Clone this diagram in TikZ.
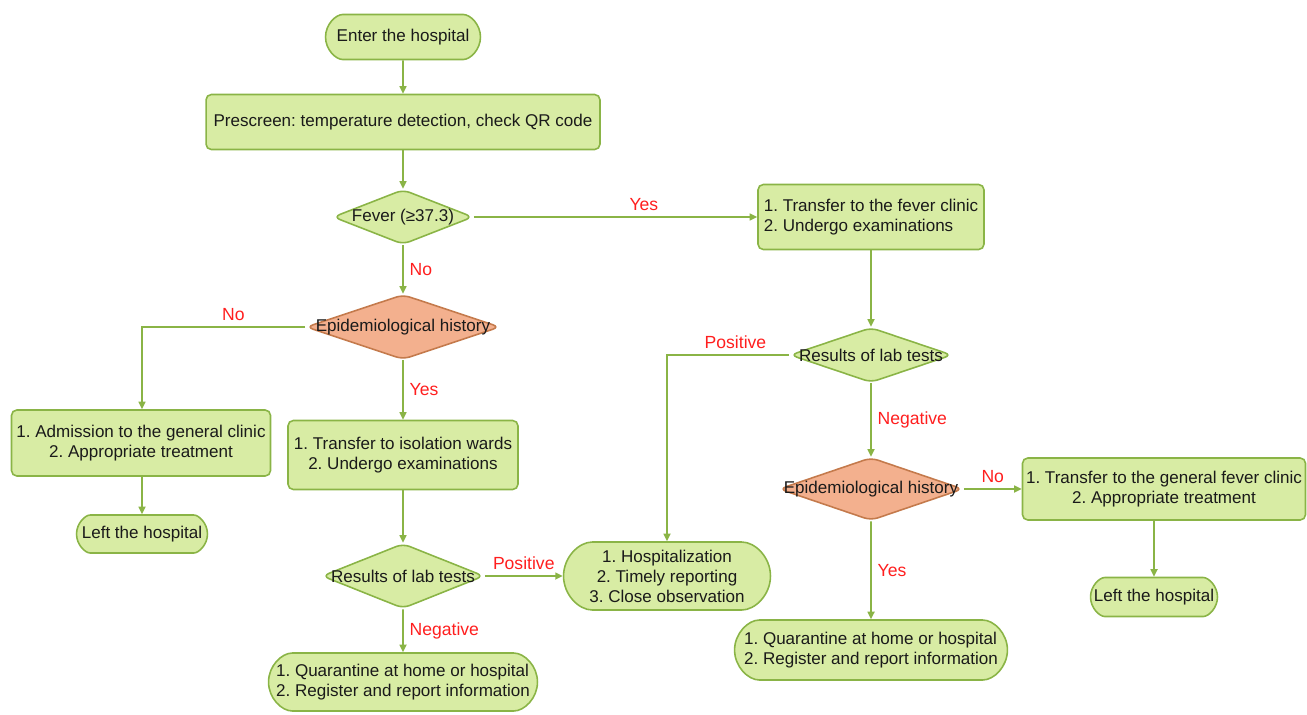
\documentclass[tikz,border=0pt]{standalone}
\usepackage{fontspec}
\setmainfont{Liberation Sans}
\usepackage{xcolor}
\definecolor{cFill}{HTML}{D8ECA4}
\definecolor{cLine}{HTML}{8AB446}
\definecolor{cHist}{HTML}{F3B08E}
\definecolor{cHistLine}{HTML}{C47A4C}
\definecolor{cLabel}{HTML}{FF1E1E}
\definecolor{cText}{HTML}{1A1A1A}
\usepackage{tikz}
\usetikzlibrary{arrows.meta,shapes.geometric,shapes.misc}
\frenchspacing
\newcommand{\dlabel}[1]{\makebox[0pt]{#1}}
\tikzset{
  node-box/.style={draw=cLine,fill=cFill,line width=0.9pt,rounded corners=3pt,
    inner sep=2pt,font=\fontsize{9.7}{11.4}\selectfont,text=cText},
  node-term/.style={node-box,rounded rectangle},
  node-check/.style={node-box,diamond,rounded corners=4pt,inner sep=0pt},
  node-hist/.style={node-check,draw=cHistLine,fill=cHist},
  arrow/.style={-{Triangle[length=1.5mm,width=1.4mm]},line width=0.9pt,draw=cLine},
  answer/.style={text=cLabel,font=\fontsize{10}{12}\selectfont},
}
\begin{document}
\begin{tikzpicture}[x=0.02cm,y=-0.02cm]
  \useasboundingbox (0,0) rectangle (1307,714);
  % left branch
  \node[node-term,minimum width=3.24cm,minimum height=0.9cm] (enter) at (403,37) {Enter the hospital};
  \node[node-box,minimum width=7.88cm,minimum height=1.1cm] (prescreen) at (403,122)
    {Prescreen: temperature detection, check QR code};
  \node[node-check,minimum width=2.8cm,minimum height=1.1cm] (fever) at (403,217) {\dlabel{Fever (≥37.3)}};
  \node[node-hist,minimum width=3.88cm,minimum height=1.3cm] (hist1) at (403,327) {\dlabel{Epidemiological history}};
  \node[node-box,minimum width=5.18cm,minimum height=1.32cm,align=center] (general) at (141,443)
    {1. Admission to the general clinic\\2. Appropriate treatment};
  \node[node-term,minimum width=2.76cm,minimum height=0.76cm] (left1) at (142,534) {Left the hospital};
  \node[node-box,minimum width=4.6cm,minimum height=1.38cm,align=center] (isolation) at (403,455)
    {1. Transfer to isolation wards\\2. Undergo examinations};
  \node[node-check,minimum width=3.24cm,minimum height=1.3cm] (lab1) at (403,576) {\dlabel{Results of lab tests}};
  \node[node-term,minimum width=5.52cm,minimum height=1.16cm,align=left] (home1) at (403,682)
    {1. Quarantine at home or hospital\\2. Register and report information};
  \node[node-term,minimum width=4.28cm,minimum height=1.36cm,align=center] (hosp) at (667,576)
    {1. Hospitalization\\2. Timely reporting\\3. Close observation};
  % right branch
  \node[node-box,minimum width=4.52cm,minimum height=1.3cm,align=left] (clinic) at (871,217)
    {1. Transfer to the fever clinic\\2. Undergo examinations};
  \node[node-check,minimum width=3.24cm,minimum height=1.1cm] (lab2) at (871,355) {\dlabel{Results of lab tests}};
  \node[node-hist,minimum width=3.68cm,minimum height=1.26cm] (hist2) at (871,489) {\dlabel{Epidemiological history}};
  \node[node-box,minimum width=5.6cm,minimum height=1.24cm,align=center] (feverclinic) at (1164,489)
    {1. Transfer to the general fever clinic\\2. Appropriate treatment};
  \node[node-term,minimum width=2.68cm,minimum height=0.78cm] (left2) at (1154,597) {Left the hospital};
  \node[node-term,minimum width=5.4cm,minimum height=1.2cm,align=left] (home2) at (871,650)
    {1. Quarantine at home or hospital\\2. Register and report information};

  \draw[arrow] (enter) -- (prescreen);
  \draw[arrow] (prescreen) -- (fever);
  \draw[arrow] (fever) -- node[answer,right]{No} (hist1);
  \draw[arrow] (fever) -- node[answer,above,pos=0.6]{Yes} (clinic);
  \draw[arrow] (hist1.west) -| node[answer,above,pos=0.22]{No} (left1 |- general.north);
  \draw[arrow] (hist1) -- node[answer,right]{Yes} (isolation);
  \draw[arrow] (general.south -| left1) -- (left1);
  \draw[arrow] (isolation) -- (lab1);
  \draw[arrow] (lab1) -- node[answer,above]{Positive} (hosp);
  \draw[arrow] (lab1) -- node[answer,right]{Negative} (home1);
  \draw[arrow] (clinic) -- (lab2);
  \draw[arrow] (lab2.west) -| node[answer,above,pos=0.22]{Positive} (hosp.north);
  \draw[arrow] (lab2) -- node[answer,right]{Negative} (hist2);
  \draw[arrow] (hist2) -- node[answer,above]{No} (feverclinic);
  \draw[arrow] (hist2) -- node[answer,right]{Yes} (home2);
  \draw[arrow] (feverclinic.south -| left2) -- (left2);
\end{tikzpicture}
\end{document}
